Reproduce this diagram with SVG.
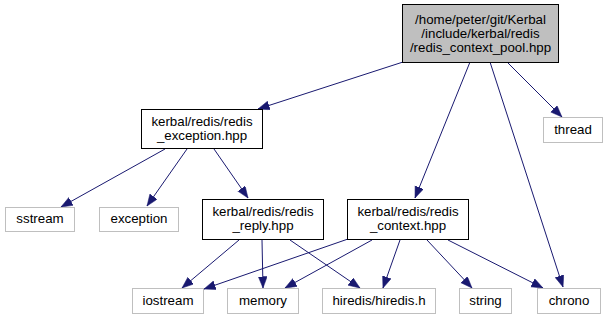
<svg xmlns="http://www.w3.org/2000/svg" width="608" height="320" viewBox="0 0 608 320">
<style>
  text { font-family: "Liberation Sans", Arial, Helvetica, sans-serif; font-size: 13.3px; fill: #000; text-anchor: middle; }
  .main rect { fill: #bfbfbf; stroke: #000; stroke-width: 1; }
  .hdr rect { fill: #fff; stroke: #000; stroke-width: 1; }
  .sys rect { fill: #fff; stroke: #bfbfbf; stroke-width: 1; }
  .edge { fill: none; stroke: #191970; stroke-width: 1; marker-end: url(#arrow); }
</style>
<defs>
  <marker id="arrow" markerUnits="userSpaceOnUse" markerWidth="12" markerHeight="10" refX="11.5" refY="4.5" orient="auto">
    <path d="M0,0 L11.5,4.5 L0,9 z" fill="#191970" stroke="#191970" stroke-width="0.5"/>
  </marker>
</defs>
<rect width="608" height="320" fill="#fff"/>

<g id="edges">
  <path class="edge" d="M403,62 L258,109"/>
  <path class="edge" d="M470,62 L415,198"/>
  <path class="edge" d="M490,62 L563,287"/>
  <path class="edge" d="M507,62 L562,117"/>
  <path class="edge" d="M165,149 L61,207"/>
  <path class="edge" d="M187,149 L147,206"/>
  <path class="edge" d="M214,149 L248,198"/>
  <path class="edge" d="M239,240 L182,288"/>
  <path class="edge" d="M262,240 L263,288"/>
  <path class="edge" d="M290,240 L360,288"/>
  <path class="edge" d="M348,239 L204,289"/>
  <path class="edge" d="M372,240 L285,288"/>
  <path class="edge" d="M400,240 L383,288"/>
  <path class="edge" d="M427,240 L472,288"/>
  <path class="edge" d="M448,240 L543,288"/>
</g>

<g id="node_pool" class="main">
  <rect x="402.5" y="4.5" width="156" height="58"/>
  <text x="480.5" y="24">/home/peter/git/Kerbal</text>
  <text x="480.5" y="38">/include/kerbal/redis</text>
  <text x="480.5" y="52">/redis_context_pool.hpp</text>
</g>

<g id="node_exception_hpp" class="hdr">
  <rect x="141.5" y="109.5" width="121" height="39"/>
  <text x="202" y="126">kerbal/redis/redis</text>
  <text x="202" y="140">_exception.hpp</text>
</g>

<g id="node_thread" class="sys">
  <rect x="543.5" y="117.5" width="59" height="25"/>
  <text x="573" y="134">thread</text>
</g>

<g id="node_sstream" class="sys">
  <rect x="5.5" y="207.5" width="69" height="24"/>
  <text x="40" y="223">sstream</text>
</g>

<g id="node_exception" class="sys">
  <rect x="99.5" y="207.5" width="79" height="24"/>
  <text x="139" y="223">exception</text>
</g>

<g id="node_reply_hpp" class="hdr">
  <rect x="202.5" y="199.5" width="121" height="40"/>
  <text x="263" y="216">kerbal/redis/redis</text>
  <text x="263" y="230">_reply.hpp</text>
</g>

<g id="node_context_hpp" class="hdr">
  <rect x="347.5" y="199.5" width="121" height="40"/>
  <text x="408" y="216">kerbal/redis/redis</text>
  <text x="408" y="230">_context.hpp</text>
</g>

<g id="node_iostream" class="sys">
  <rect x="132.5" y="288.5" width="71" height="25"/>
  <text x="168" y="305">iostream</text>
</g>

<g id="node_memory" class="sys">
  <rect x="227.5" y="288.5" width="71" height="25"/>
  <text x="263" y="305">memory</text>
</g>

<g id="node_hiredis" class="sys">
  <rect x="322.5" y="288.5" width="113" height="25"/>
  <text x="379" y="305">hiredis/hiredis.h</text>
</g>

<g id="node_string" class="sys">
  <rect x="459.5" y="288.5" width="52" height="25"/>
  <text x="485.5" y="305">string</text>
</g>

<g id="node_chrono" class="sys">
  <rect x="537.5" y="288.5" width="63" height="25"/>
  <text x="569" y="305">chrono</text>
</g>
</svg>
